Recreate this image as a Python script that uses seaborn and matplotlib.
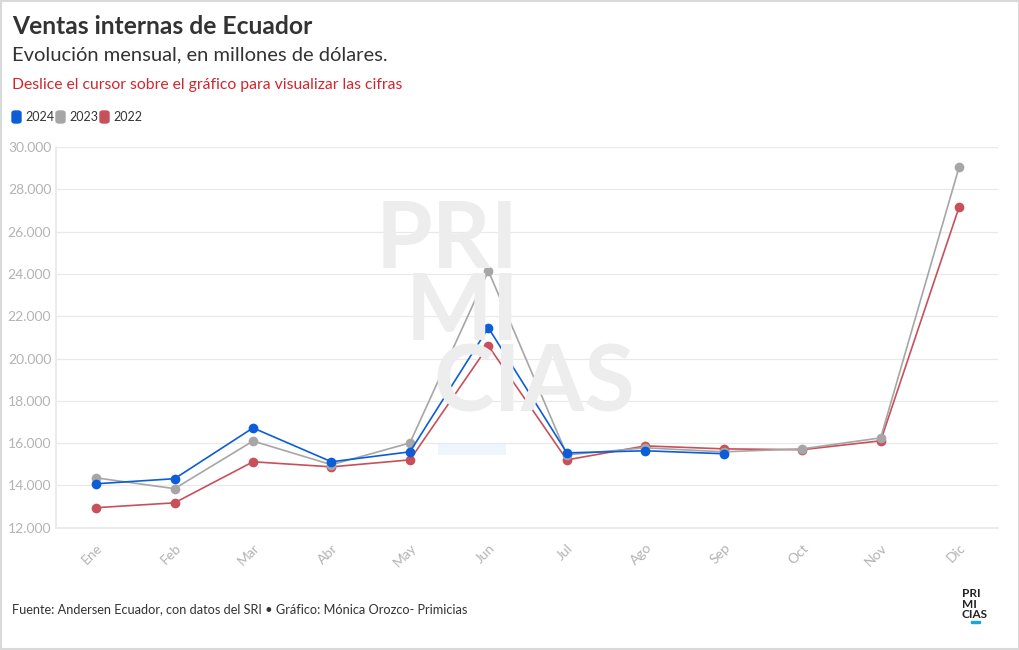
import numpy as np
import pandas as pd
import matplotlib
matplotlib.use("Agg")
import matplotlib.pyplot as plt
import seaborn as sns
from matplotlib.patches import FancyBboxPatch, Rectangle
from matplotlib.ticker import FuncFormatter

# data (millones de dólares)
meses = ["Ene", "Feb", "Mar", "Abr", "May", "Jun", "Jul", "Ago", "Sep", "Oct", "Nov", "Dic"]
ventas_2024 = [14080, 14320, 16720, 15120, 15590, 21450, 15540, 15640, 15500, None, None, None]
ventas_2023 = [14360, 13850, 16100, 14980, 16010, 24140, 15450, 15780, 15590, 15730, 16250, 29050]
ventas_2022 = [12950, 13180, 15120, 14880, 15210, 20600, 15210, 15870, 15730, 15690, 16110, 27160]
years = ["2024", "2023", "2022"]
colors = {"2024": "#0b5ed7", "2023": "#a6a6a6", "2022": "#c8505a"}

rows = []
for yr, vals in zip(years, [ventas_2024, ventas_2023, ventas_2022]):
    for i, v in enumerate(vals):
        if v is not None:
            rows.append({"mes": i, "year": yr, "ventas": v})
df = pd.DataFrame(rows)

sns.set_theme(style="white")
plt.rcParams["font.family"] = ["Lato", "DejaVu Sans"]

W, H = 1020, 650
fig = plt.figure(figsize=(W / 100, H / 100), dpi=100)
fig.patch.set_facecolor("white")
ax = fig.add_axes([0.055, 0.188, 0.923, 0.586])


def fx(px):
    return px / W


def fy(py):
    return 1 - py / H


# watermark (one text per line, baseline-anchored)
wm = dict(fontsize=66, fontweight="bold", color="#ededed", zorder=0, va="baseline")
fig.text(fx(519), fy(268), "PRI", ha="right", **wm)
fig.text(fx(519), fy(340), "MI", ha="right", **wm)
fig.text(fx(434), fy(412), "CIAS", ha="left", **wm)
ax.add_patch(Rectangle((4.36, 15450), 0.86, 550, color="#eef5fd", zorder=0, lw=0))
ax.patch.set_alpha(0)

# draw the years in reverse so 2024 sits on top
for yr in ["2022", "2023", "2024"]:
    d = df[df["year"] == yr]
    sns.lineplot(data=d, x="mes", y="ventas", ax=ax, color=colors[yr], lw=1.2,
                 marker="o", markersize=7, markeredgewidth=0, zorder=3)

ax.set_xlim(-0.51, 11.49)
ax.set_ylim(12000, 30000)
ax.set_yticks(np.arange(12000, 30001, 2000))
ax.yaxis.set_major_formatter(FuncFormatter(lambda v, p: f"{int(v):,}".replace(",", ".")))
ax.set_xticks(range(12))
ax.set_xticklabels(meses, rotation=45, ha="right", rotation_mode="anchor")
ax.tick_params(axis="both", labelsize=10, colors="#b3b3b3", length=0)
ax.tick_params(axis="x", pad=10)
ax.grid(axis="y", color="#e9e9e9", lw=0.9)
ax.set_xlabel("")
ax.set_ylabel("")
for s in ["top", "right"]:
    ax.spines[s].set_visible(False)
ax.spines["left"].set_color("#e9e9e9")
ax.spines["bottom"].set_color("#e9e9e9")

# titles
fig.text(fx(12), fy(27), "Ventas internas de Ecuador", fontsize=17.7,
         fontweight="bold", color="#333333", va="center")
fig.text(fx(12), fy(55), "Evolución mensual, en millones de dólares.", fontsize=14.5,
         color="#333333", va="center")
fig.text(fx(12), fy(85), "Deslice el cursor sobre el gráfico para visualizar las cifras",
         fontsize=11.3, color="#d0262f", va="center")

# legend
lx = 12
for yr in years:
    fig.patches.append(FancyBboxPatch((fx(lx), fy(123)), 9 / W, 12 / H,
                                      boxstyle="round,pad=0,rounding_size=0.003",
                                      transform=fig.transFigure, color=colors[yr]))
    fig.text(fx(lx + 13), fy(117), yr, fontsize=9, color="#333333", va="center")
    lx += 44

# footer
fig.text(fx(12), fy(609),
         "Fuente: Andersen Ecuador, con datos del SRI • Gráfico: Mónica Orozco- Primicias",
         fontsize=9.2, color="#333333", va="center")
fig.text(fx(962), fy(604), "PRI\nMI\nCIAS", fontsize=8.5, fontweight="bold",
         color="#222222", va="center", ha="left", linespacing=0.9)
fig.patches.append(Rectangle((fx(971), fy(623)), 9 / W, 2 / H,
                             transform=fig.transFigure, color="#1aa6d6"))

# light frame around the whole figure
fig.patches.append(Rectangle((0.001, 0.001), 0.998, 0.997, transform=fig.transFigure,
                             fill=False, edgecolor="#d9d9d9", lw=1.5))

fig.savefig("out.png", dpi=100, facecolor="white")
